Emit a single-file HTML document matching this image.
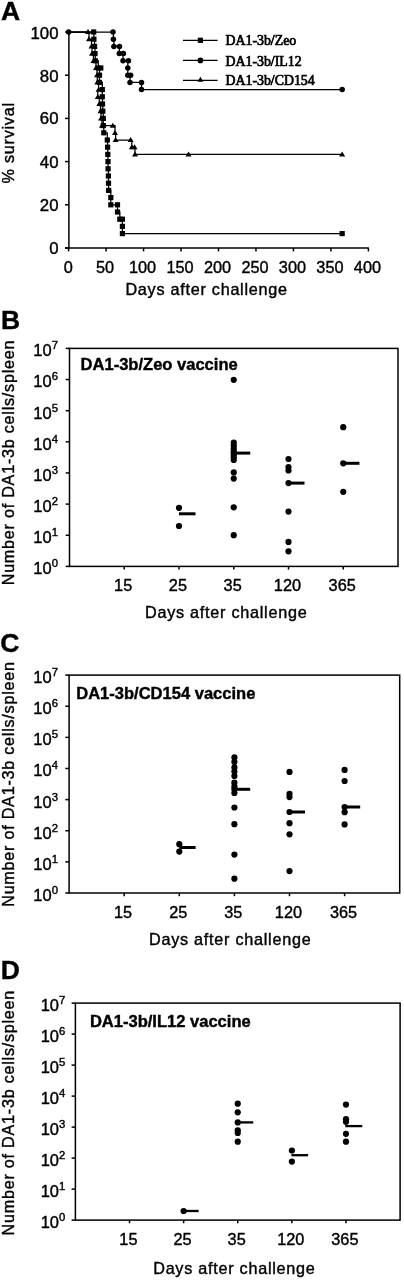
<!DOCTYPE html>
<html><head><meta charset="utf-8"><style>
html,body{margin:0;padding:0;background:#fff;}
svg{display:block;will-change:transform;}
text{stroke:#000;stroke-width:0.4;}
</style></head><body>
<svg width="404" height="1280" viewBox="0 0 404 1280">
<defs><filter id="bl" x="0" y="0" width="1" height="1"><feGaussianBlur stdDeviation="0.35"/></filter></defs>
<rect width="404" height="1280" fill="#fff"/>
<g filter="url(#bl)">
<rect width="404" height="1280" fill="#fff"/>
<text transform="translate(1.00,20.40)" font-family="Liberation Sans" font-size="26.5" font-weight="bold" text-anchor="start" fill="#000" >A</text>
<line x1="68.90" y1="31.50" x2="68.90" y2="248.50" stroke="#000" stroke-width="1.5"/>
<line x1="65.00" y1="248.00" x2="368.90" y2="248.00" stroke="#000" stroke-width="1.5"/>
<line x1="65.00" y1="248.00" x2="68.90" y2="248.00" stroke="#000" stroke-width="1.5"/>
<text transform="translate(58.50,254.20) scale(1.0300,1)" font-family="Liberation Sans" font-size="16.3" font-weight="normal" text-anchor="end" fill="#000" >0</text>
<line x1="65.00" y1="204.80" x2="68.90" y2="204.80" stroke="#000" stroke-width="1.5"/>
<text transform="translate(58.50,210.60) scale(1.0300,1)" font-family="Liberation Sans" font-size="16.3" font-weight="normal" text-anchor="end" fill="#000" >20</text>
<line x1="65.00" y1="161.60" x2="68.90" y2="161.60" stroke="#000" stroke-width="1.5"/>
<text transform="translate(58.50,167.90) scale(1.0300,1)" font-family="Liberation Sans" font-size="16.3" font-weight="normal" text-anchor="end" fill="#000" >40</text>
<line x1="65.00" y1="118.40" x2="68.90" y2="118.40" stroke="#000" stroke-width="1.5"/>
<text transform="translate(58.50,124.10) scale(1.0300,1)" font-family="Liberation Sans" font-size="16.3" font-weight="normal" text-anchor="end" fill="#000" >60</text>
<line x1="65.00" y1="75.20" x2="68.90" y2="75.20" stroke="#000" stroke-width="1.5"/>
<text transform="translate(58.50,82.30) scale(1.0300,1)" font-family="Liberation Sans" font-size="16.3" font-weight="normal" text-anchor="end" fill="#000" >80</text>
<line x1="65.00" y1="32.00" x2="68.90" y2="32.00" stroke="#000" stroke-width="1.5"/>
<text transform="translate(58.50,39.40) scale(1.0300,1)" font-family="Liberation Sans" font-size="16.3" font-weight="normal" text-anchor="end" fill="#000" >100</text>
<line x1="68.60" y1="248.00" x2="68.60" y2="251.40" stroke="#000" stroke-width="1.5"/>
<text transform="translate(68.40,272.60)" font-family="Liberation Sans" font-size="16.3" font-weight="normal" text-anchor="middle" fill="#000" >0</text>
<line x1="106.07" y1="248.00" x2="106.07" y2="251.40" stroke="#000" stroke-width="1.5"/>
<text transform="translate(105.07,272.60)" font-family="Liberation Sans" font-size="16.3" font-weight="normal" text-anchor="middle" fill="#000" >50</text>
<line x1="143.55" y1="248.00" x2="143.55" y2="251.40" stroke="#000" stroke-width="1.5"/>
<text transform="translate(142.55,272.60)" font-family="Liberation Sans" font-size="16.3" font-weight="normal" text-anchor="middle" fill="#000" >100</text>
<line x1="181.03" y1="248.00" x2="181.03" y2="251.40" stroke="#000" stroke-width="1.5"/>
<text transform="translate(180.03,272.60)" font-family="Liberation Sans" font-size="16.3" font-weight="normal" text-anchor="middle" fill="#000" >150</text>
<line x1="218.50" y1="248.00" x2="218.50" y2="251.40" stroke="#000" stroke-width="1.5"/>
<text transform="translate(217.50,272.60)" font-family="Liberation Sans" font-size="16.3" font-weight="normal" text-anchor="middle" fill="#000" >200</text>
<line x1="255.97" y1="248.00" x2="255.97" y2="251.40" stroke="#000" stroke-width="1.5"/>
<text transform="translate(254.97,272.60)" font-family="Liberation Sans" font-size="16.3" font-weight="normal" text-anchor="middle" fill="#000" >250</text>
<line x1="293.45" y1="248.00" x2="293.45" y2="251.40" stroke="#000" stroke-width="1.5"/>
<text transform="translate(292.45,272.60)" font-family="Liberation Sans" font-size="16.3" font-weight="normal" text-anchor="middle" fill="#000" >300</text>
<line x1="330.93" y1="248.00" x2="330.93" y2="251.40" stroke="#000" stroke-width="1.5"/>
<text transform="translate(329.93,272.60)" font-family="Liberation Sans" font-size="16.3" font-weight="normal" text-anchor="middle" fill="#000" >350</text>
<line x1="368.40" y1="248.00" x2="368.40" y2="251.40" stroke="#000" stroke-width="1.5"/>
<text transform="translate(367.40,272.60)" font-family="Liberation Sans" font-size="16.3" font-weight="normal" text-anchor="middle" fill="#000" >400</text>
<text transform="translate(125.40,294.60)" font-family="Liberation Sans" font-size="16.2" font-weight="normal" text-anchor="start" fill="#000" letter-spacing="0.74">Days after challenge</text>
<text transform="translate(14.20,183.40) rotate(-90)" font-family="Liberation Sans" font-size="16.2" font-weight="normal" text-anchor="start" fill="#000" letter-spacing="0.74">% survival</text>
<line x1="183.00" y1="40.30" x2="217.60" y2="40.30" stroke="#000" stroke-width="1.25"/>
<rect x="197.80" y="37.70" width="5.2" height="5.2" fill="#000"/>
<text transform="translate(225.50,45.40)" font-family="Liberation Serif" font-size="13.85" font-weight="normal" text-anchor="start" fill="#000" style="stroke-width:0.7px">DA1-3b/Zeo</text>
<line x1="183.00" y1="60.40" x2="217.60" y2="60.40" stroke="#000" stroke-width="1.25"/>
<circle cx="200.40" cy="60.40" r="2.85" fill="#000"/>
<text transform="translate(225.50,65.50)" font-family="Liberation Serif" font-size="13.85" font-weight="normal" text-anchor="start" fill="#000" style="stroke-width:0.7px">DA1-3b/IL12</text>
<line x1="183.00" y1="80.30" x2="217.60" y2="80.30" stroke="#000" stroke-width="1.25"/>
<path d="M197.50,81.80L200.40,76.80L203.30,81.80Z" fill="#000"/>
<text transform="translate(225.50,85.40)" font-family="Liberation Serif" font-size="13.85" font-weight="normal" text-anchor="start" fill="#000" style="stroke-width:0.7px">DA1-3b/CD154</text>
<path d="M68.60,32.00L88.00,32.00L89.00,32.00L89.00,39.20L91.50,39.20L91.50,46.40L92.00,46.40L92.00,53.60L93.50,53.60L93.50,60.80L96.00,60.80L96.00,68.00L97.00,68.00L97.00,75.20L97.30,75.20L97.30,82.40L98.60,82.40L98.60,89.60L97.80,89.60L97.80,96.80L99.30,96.80L99.30,104.00L100.50,104.00L100.50,111.20L101.00,111.20L101.00,118.40L102.00,118.40L102.00,125.60L112.80,125.60L115.00,125.60L115.00,132.80L115.60,132.80L115.60,140.00L130.60,140.00L131.80,140.00L131.80,147.20L134.50,147.20L135.00,147.20L135.00,154.40L342.17,154.40" fill="none" stroke="#000" stroke-width="1.25"/>
<path d="M85.00,34.10L88.00,29.10L91.00,34.10Z" fill="#000"/>
<path d="M86.00,41.30L89.00,36.30L92.00,41.30Z" fill="#000"/>
<path d="M88.50,48.50L91.50,43.50L94.50,48.50Z" fill="#000"/>
<path d="M89.00,55.70L92.00,50.70L95.00,55.70Z" fill="#000"/>
<path d="M90.50,62.90L93.50,57.90L96.50,62.90Z" fill="#000"/>
<path d="M93.00,70.10L96.00,65.10L99.00,70.10Z" fill="#000"/>
<path d="M94.00,77.30L97.00,72.30L100.00,77.30Z" fill="#000"/>
<path d="M94.30,84.50L97.30,79.50L100.30,84.50Z" fill="#000"/>
<path d="M95.60,91.70L98.60,86.70L101.60,91.70Z" fill="#000"/>
<path d="M94.80,98.90L97.80,93.90L100.80,98.90Z" fill="#000"/>
<path d="M96.30,106.10L99.30,101.10L102.30,106.10Z" fill="#000"/>
<path d="M97.50,113.30L100.50,108.30L103.50,113.30Z" fill="#000"/>
<path d="M98.00,120.50L101.00,115.50L104.00,120.50Z" fill="#000"/>
<path d="M99.00,127.70L102.00,122.70L105.00,127.70Z" fill="#000"/>
<path d="M109.80,127.70L112.80,122.70L115.80,127.70Z" fill="#000"/>
<path d="M112.00,134.90L115.00,129.90L118.00,134.90Z" fill="#000"/>
<path d="M112.60,142.10L115.60,137.10L118.60,142.10Z" fill="#000"/>
<path d="M127.60,142.10L130.60,137.10L133.60,142.10Z" fill="#000"/>
<path d="M128.80,149.30L131.80,144.30L134.80,149.30Z" fill="#000"/>
<path d="M131.50,149.30L134.50,144.30L137.50,149.30Z" fill="#000"/>
<path d="M132.00,156.50L135.00,151.50L138.00,156.50Z" fill="#000"/>
<path d="M185.52,156.50L188.52,151.50L191.52,156.50Z" fill="#000"/>
<path d="M339.17,156.50L342.17,151.50L345.17,156.50Z" fill="#000"/>
<path d="M68.60,32.00L93.70,32.00L93.90,32.00L93.90,39.20L94.60,39.20L94.60,46.40L95.00,46.40L95.00,53.60L95.30,53.60L95.30,60.80L98.30,60.80L98.30,68.00L100.80,68.00L99.50,68.00L99.50,75.20L99.50,75.20L99.50,82.40L102.30,82.40L102.30,89.60L102.30,89.60L102.30,96.80L102.50,96.80L102.50,104.00L102.80,104.00L102.80,111.20L103.30,111.20L103.30,118.40L103.30,118.40L103.30,125.60L103.80,125.60L103.80,132.80L107.30,132.80L107.30,140.00L107.60,140.00L107.60,147.20L107.80,147.20L107.80,154.40L108.00,154.40L108.00,161.60L108.10,161.60L108.10,168.80L108.40,168.80L108.40,176.00L108.50,176.00L108.50,183.20L108.60,183.20L108.60,190.40L110.80,190.40L110.80,197.60L110.80,197.60L110.80,204.80L117.50,204.80L117.50,204.80L117.50,212.00L119.80,212.00L119.80,219.20L122.40,219.20L122.40,219.20L122.40,226.40L122.40,226.40L122.40,233.60L342.17,233.60" fill="none" stroke="#000" stroke-width="1.25"/>
<rect x="91.10" y="29.40" width="5.2" height="5.2" fill="#000"/>
<rect x="91.30" y="36.60" width="5.2" height="5.2" fill="#000"/>
<rect x="92.00" y="43.80" width="5.2" height="5.2" fill="#000"/>
<rect x="92.40" y="51.00" width="5.2" height="5.2" fill="#000"/>
<rect x="92.70" y="58.20" width="5.2" height="5.2" fill="#000"/>
<rect x="95.70" y="65.40" width="5.2" height="5.2" fill="#000"/>
<rect x="98.20" y="65.40" width="5.2" height="5.2" fill="#000"/>
<rect x="96.90" y="72.60" width="5.2" height="5.2" fill="#000"/>
<rect x="96.90" y="79.80" width="5.2" height="5.2" fill="#000"/>
<rect x="99.70" y="87.00" width="5.2" height="5.2" fill="#000"/>
<rect x="99.70" y="94.20" width="5.2" height="5.2" fill="#000"/>
<rect x="99.90" y="101.40" width="5.2" height="5.2" fill="#000"/>
<rect x="100.20" y="108.60" width="5.2" height="5.2" fill="#000"/>
<rect x="100.70" y="115.80" width="5.2" height="5.2" fill="#000"/>
<rect x="100.70" y="123.00" width="5.2" height="5.2" fill="#000"/>
<rect x="101.20" y="130.20" width="5.2" height="5.2" fill="#000"/>
<rect x="104.70" y="137.40" width="5.2" height="5.2" fill="#000"/>
<rect x="105.00" y="144.60" width="5.2" height="5.2" fill="#000"/>
<rect x="105.20" y="151.80" width="5.2" height="5.2" fill="#000"/>
<rect x="105.40" y="159.00" width="5.2" height="5.2" fill="#000"/>
<rect x="105.50" y="166.20" width="5.2" height="5.2" fill="#000"/>
<rect x="105.80" y="173.40" width="5.2" height="5.2" fill="#000"/>
<rect x="105.90" y="180.60" width="5.2" height="5.2" fill="#000"/>
<rect x="106.00" y="187.80" width="5.2" height="5.2" fill="#000"/>
<rect x="108.20" y="195.00" width="5.2" height="5.2" fill="#000"/>
<rect x="108.20" y="202.20" width="5.2" height="5.2" fill="#000"/>
<rect x="114.90" y="202.20" width="5.2" height="5.2" fill="#000"/>
<rect x="114.90" y="209.40" width="5.2" height="5.2" fill="#000"/>
<rect x="117.20" y="216.60" width="5.2" height="5.2" fill="#000"/>
<rect x="119.80" y="216.60" width="5.2" height="5.2" fill="#000"/>
<rect x="119.80" y="223.80" width="5.2" height="5.2" fill="#000"/>
<rect x="119.80" y="231.00" width="5.2" height="5.2" fill="#000"/>
<rect x="339.57" y="231.00" width="5.2" height="5.2" fill="#000"/>
<path d="M68.60,32.00L113.00,32.00L113.40,32.00L113.40,39.20L113.90,39.20L113.90,46.40L119.50,46.40L119.30,46.40L119.30,53.60L123.40,53.60L123.00,53.60L123.00,60.80L128.40,60.80L127.80,60.80L127.80,68.00L127.80,68.00L127.80,75.20L130.60,75.20L130.00,75.20L130.00,82.40L141.50,82.40L141.50,82.40L141.50,89.60L342.17,89.60" fill="none" stroke="#000" stroke-width="1.25"/>
<circle cx="113.00" cy="32.00" r="2.75" fill="#000"/>
<circle cx="113.40" cy="39.20" r="2.75" fill="#000"/>
<circle cx="113.90" cy="46.40" r="2.75" fill="#000"/>
<circle cx="119.50" cy="46.40" r="2.75" fill="#000"/>
<circle cx="119.30" cy="53.60" r="2.75" fill="#000"/>
<circle cx="123.40" cy="53.60" r="2.75" fill="#000"/>
<circle cx="123.00" cy="60.80" r="2.75" fill="#000"/>
<circle cx="128.40" cy="60.80" r="2.75" fill="#000"/>
<circle cx="127.80" cy="68.00" r="2.75" fill="#000"/>
<circle cx="127.80" cy="75.20" r="2.75" fill="#000"/>
<circle cx="130.60" cy="75.20" r="2.75" fill="#000"/>
<circle cx="130.00" cy="82.40" r="2.75" fill="#000"/>
<circle cx="141.50" cy="82.40" r="2.75" fill="#000"/>
<circle cx="141.50" cy="89.60" r="2.75" fill="#000"/>
<circle cx="68.60" cy="32.00" r="2.75" fill="#000"/>
<circle cx="342.17" cy="89.60" r="2.75" fill="#000"/>
<text transform="translate(1.00,328.60)" font-family="Liberation Sans" font-size="26.5" font-weight="bold" text-anchor="start" fill="#000" >B</text>
<rect x="69.50" y="348.40" width="328.50" height="218.00" fill="none" stroke="#000" stroke-width="1.5"/>
<line x1="65.70" y1="566.40" x2="69.50" y2="566.40" stroke="#000" stroke-width="1.5"/>
<text transform="translate(58.00,574.30) scale(1.03,1)" font-family="Liberation Sans" font-size="16" fill="#000" text-anchor="end">10<tspan font-size="11" dy="-7">0</tspan></text>
<line x1="65.70" y1="535.26" x2="69.50" y2="535.26" stroke="#000" stroke-width="1.5"/>
<text transform="translate(58.00,543.16) scale(1.03,1)" font-family="Liberation Sans" font-size="16" fill="#000" text-anchor="end">10<tspan font-size="11" dy="-7">1</tspan></text>
<line x1="65.70" y1="504.11" x2="69.50" y2="504.11" stroke="#000" stroke-width="1.5"/>
<text transform="translate(58.00,512.01) scale(1.03,1)" font-family="Liberation Sans" font-size="16" fill="#000" text-anchor="end">10<tspan font-size="11" dy="-7">2</tspan></text>
<line x1="65.70" y1="472.97" x2="69.50" y2="472.97" stroke="#000" stroke-width="1.5"/>
<text transform="translate(58.00,480.87) scale(1.03,1)" font-family="Liberation Sans" font-size="16" fill="#000" text-anchor="end">10<tspan font-size="11" dy="-7">3</tspan></text>
<line x1="65.70" y1="441.83" x2="69.50" y2="441.83" stroke="#000" stroke-width="1.5"/>
<text transform="translate(58.00,449.73) scale(1.03,1)" font-family="Liberation Sans" font-size="16" fill="#000" text-anchor="end">10<tspan font-size="11" dy="-7">4</tspan></text>
<line x1="65.70" y1="410.69" x2="69.50" y2="410.69" stroke="#000" stroke-width="1.5"/>
<text transform="translate(58.00,418.59) scale(1.03,1)" font-family="Liberation Sans" font-size="16" fill="#000" text-anchor="end">10<tspan font-size="11" dy="-7">5</tspan></text>
<line x1="65.70" y1="379.54" x2="69.50" y2="379.54" stroke="#000" stroke-width="1.5"/>
<text transform="translate(58.00,387.44) scale(1.03,1)" font-family="Liberation Sans" font-size="16" fill="#000" text-anchor="end">10<tspan font-size="11" dy="-7">6</tspan></text>
<line x1="65.70" y1="348.40" x2="69.50" y2="348.40" stroke="#000" stroke-width="1.5"/>
<text transform="translate(58.00,356.30) scale(1.03,1)" font-family="Liberation Sans" font-size="16" fill="#000" text-anchor="end">10<tspan font-size="11" dy="-7">7</tspan></text>
<line x1="124.25" y1="566.40" x2="124.25" y2="569.60" stroke="#000" stroke-width="1.5"/>
<text transform="translate(123.15,591.20)" font-family="Liberation Sans" font-size="16.3" font-weight="normal" text-anchor="middle" fill="#000" >15</text>
<line x1="179.00" y1="566.40" x2="179.00" y2="569.60" stroke="#000" stroke-width="1.5"/>
<text transform="translate(177.90,591.20)" font-family="Liberation Sans" font-size="16.3" font-weight="normal" text-anchor="middle" fill="#000" >25</text>
<line x1="233.75" y1="566.40" x2="233.75" y2="569.60" stroke="#000" stroke-width="1.5"/>
<text transform="translate(232.65,591.20)" font-family="Liberation Sans" font-size="16.3" font-weight="normal" text-anchor="middle" fill="#000" >35</text>
<line x1="288.50" y1="566.40" x2="288.50" y2="569.60" stroke="#000" stroke-width="1.5"/>
<text transform="translate(287.40,591.20)" font-family="Liberation Sans" font-size="16.3" font-weight="normal" text-anchor="middle" fill="#000" >120</text>
<line x1="343.25" y1="566.40" x2="343.25" y2="569.60" stroke="#000" stroke-width="1.5"/>
<text transform="translate(342.15,591.20)" font-family="Liberation Sans" font-size="16.3" font-weight="normal" text-anchor="middle" fill="#000" >365</text>
<text transform="translate(145.00,617.60)" font-family="Liberation Sans" font-size="16.2" font-weight="normal" text-anchor="start" fill="#000" letter-spacing="0.74">Days after challenge</text>
<text transform="translate(14.00,585.30) rotate(-90)" font-family="Liberation Sans" font-size="16.2" font-weight="normal" text-anchor="start" fill="#000" letter-spacing="0.74">Number of DA1-3b cells/spleen</text>
<text transform="translate(80.60,369.50)" font-family="Liberation Sans" font-size="16.55" font-weight="bold" text-anchor="start" fill="#000" >DA1-3b/Zeo vaccine</text>
<circle cx="179.00" cy="507.80" r="3.1" fill="#000"/>
<circle cx="179.00" cy="526.00" r="3.1" fill="#000"/>
<line x1="179.00" y1="513.80" x2="195.50" y2="513.80" stroke="#000" stroke-width="3.0"/>
<circle cx="233.75" cy="442.50" r="3.1" fill="#000"/>
<circle cx="233.75" cy="445.50" r="3.1" fill="#000"/>
<circle cx="233.75" cy="448.50" r="3.1" fill="#000"/>
<circle cx="233.75" cy="451.50" r="3.1" fill="#000"/>
<circle cx="233.75" cy="455.00" r="3.1" fill="#000"/>
<circle cx="233.75" cy="457.50" r="3.1" fill="#000"/>
<circle cx="233.75" cy="460.00" r="3.1" fill="#000"/>
<circle cx="233.75" cy="472.40" r="3.1" fill="#000"/>
<circle cx="233.75" cy="478.60" r="3.1" fill="#000"/>
<circle cx="233.75" cy="507.30" r="3.1" fill="#000"/>
<circle cx="233.75" cy="535.20" r="3.1" fill="#000"/>
<circle cx="233.75" cy="379.80" r="3.1" fill="#000"/>
<circle cx="233.75" cy="453.10" r="3.1" fill="#000"/>
<line x1="233.75" y1="453.10" x2="250.25" y2="453.10" stroke="#000" stroke-width="3.0"/>
<circle cx="288.50" cy="459.00" r="3.1" fill="#000"/>
<circle cx="288.50" cy="467.00" r="3.1" fill="#000"/>
<circle cx="288.50" cy="470.50" r="3.1" fill="#000"/>
<circle cx="288.50" cy="511.60" r="3.1" fill="#000"/>
<circle cx="288.50" cy="541.90" r="3.1" fill="#000"/>
<circle cx="288.50" cy="551.30" r="3.1" fill="#000"/>
<circle cx="288.50" cy="483.10" r="3.1" fill="#000"/>
<line x1="288.50" y1="483.10" x2="304.50" y2="483.10" stroke="#000" stroke-width="3.0"/>
<circle cx="343.25" cy="427.20" r="3.1" fill="#000"/>
<circle cx="343.25" cy="491.80" r="3.1" fill="#000"/>
<circle cx="343.25" cy="463.30" r="3.1" fill="#000"/>
<line x1="343.25" y1="463.30" x2="359.45" y2="463.30" stroke="#000" stroke-width="3.0"/>
<text transform="translate(0.30,651.60)" font-family="Liberation Sans" font-size="26.5" font-weight="bold" text-anchor="start" fill="#000" >C</text>
<rect x="69.10" y="675.10" width="330.60" height="217.90" fill="none" stroke="#000" stroke-width="1.5"/>
<line x1="65.30" y1="893.00" x2="69.10" y2="893.00" stroke="#000" stroke-width="1.5"/>
<text transform="translate(58.00,900.90) scale(1.03,1)" font-family="Liberation Sans" font-size="16" fill="#000" text-anchor="end">10<tspan font-size="11" dy="-7">0</tspan></text>
<line x1="65.30" y1="861.87" x2="69.10" y2="861.87" stroke="#000" stroke-width="1.5"/>
<text transform="translate(58.00,869.77) scale(1.03,1)" font-family="Liberation Sans" font-size="16" fill="#000" text-anchor="end">10<tspan font-size="11" dy="-7">1</tspan></text>
<line x1="65.30" y1="830.74" x2="69.10" y2="830.74" stroke="#000" stroke-width="1.5"/>
<text transform="translate(58.00,838.64) scale(1.03,1)" font-family="Liberation Sans" font-size="16" fill="#000" text-anchor="end">10<tspan font-size="11" dy="-7">2</tspan></text>
<line x1="65.30" y1="799.61" x2="69.10" y2="799.61" stroke="#000" stroke-width="1.5"/>
<text transform="translate(58.00,807.51) scale(1.03,1)" font-family="Liberation Sans" font-size="16" fill="#000" text-anchor="end">10<tspan font-size="11" dy="-7">3</tspan></text>
<line x1="65.30" y1="768.49" x2="69.10" y2="768.49" stroke="#000" stroke-width="1.5"/>
<text transform="translate(58.00,776.39) scale(1.03,1)" font-family="Liberation Sans" font-size="16" fill="#000" text-anchor="end">10<tspan font-size="11" dy="-7">4</tspan></text>
<line x1="65.30" y1="737.36" x2="69.10" y2="737.36" stroke="#000" stroke-width="1.5"/>
<text transform="translate(58.00,745.26) scale(1.03,1)" font-family="Liberation Sans" font-size="16" fill="#000" text-anchor="end">10<tspan font-size="11" dy="-7">5</tspan></text>
<line x1="65.30" y1="706.23" x2="69.10" y2="706.23" stroke="#000" stroke-width="1.5"/>
<text transform="translate(58.00,714.13) scale(1.03,1)" font-family="Liberation Sans" font-size="16" fill="#000" text-anchor="end">10<tspan font-size="11" dy="-7">6</tspan></text>
<line x1="65.30" y1="675.10" x2="69.10" y2="675.10" stroke="#000" stroke-width="1.5"/>
<text transform="translate(58.00,683.00) scale(1.03,1)" font-family="Liberation Sans" font-size="16" fill="#000" text-anchor="end">10<tspan font-size="11" dy="-7">7</tspan></text>
<line x1="124.20" y1="893.00" x2="124.20" y2="896.20" stroke="#000" stroke-width="1.5"/>
<text transform="translate(123.10,917.80)" font-family="Liberation Sans" font-size="16.3" font-weight="normal" text-anchor="middle" fill="#000" >15</text>
<line x1="179.30" y1="893.00" x2="179.30" y2="896.20" stroke="#000" stroke-width="1.5"/>
<text transform="translate(178.20,917.80)" font-family="Liberation Sans" font-size="16.3" font-weight="normal" text-anchor="middle" fill="#000" >25</text>
<line x1="234.40" y1="893.00" x2="234.40" y2="896.20" stroke="#000" stroke-width="1.5"/>
<text transform="translate(233.30,917.80)" font-family="Liberation Sans" font-size="16.3" font-weight="normal" text-anchor="middle" fill="#000" >35</text>
<line x1="289.50" y1="893.00" x2="289.50" y2="896.20" stroke="#000" stroke-width="1.5"/>
<text transform="translate(288.40,917.80)" font-family="Liberation Sans" font-size="16.3" font-weight="normal" text-anchor="middle" fill="#000" >120</text>
<line x1="344.60" y1="893.00" x2="344.60" y2="896.20" stroke="#000" stroke-width="1.5"/>
<text transform="translate(343.50,917.80)" font-family="Liberation Sans" font-size="16.3" font-weight="normal" text-anchor="middle" fill="#000" >365</text>
<text transform="translate(149.00,944.80)" font-family="Liberation Sans" font-size="16.2" font-weight="normal" text-anchor="start" fill="#000" letter-spacing="0.74">Days after challenge</text>
<text transform="translate(14.00,906.80) rotate(-90)" font-family="Liberation Sans" font-size="16.2" font-weight="normal" text-anchor="start" fill="#000" letter-spacing="0.74">Number of DA1-3b cells/spleen</text>
<text transform="translate(76.20,698.80)" font-family="Liberation Sans" font-size="16.55" font-weight="bold" text-anchor="start" fill="#000" >DA1-3b/CD154 vaccine</text>
<circle cx="179.30" cy="844.20" r="3.1" fill="#000"/>
<circle cx="179.30" cy="851.60" r="3.1" fill="#000"/>
<line x1="179.30" y1="847.50" x2="195.60" y2="847.50" stroke="#000" stroke-width="3.0"/>
<circle cx="234.40" cy="757.40" r="3.1" fill="#000"/>
<circle cx="234.40" cy="761.90" r="3.1" fill="#000"/>
<circle cx="234.40" cy="767.40" r="3.1" fill="#000"/>
<circle cx="234.40" cy="771.50" r="3.1" fill="#000"/>
<circle cx="234.40" cy="776.00" r="3.1" fill="#000"/>
<circle cx="234.40" cy="782.70" r="3.1" fill="#000"/>
<circle cx="234.40" cy="786.40" r="3.1" fill="#000"/>
<circle cx="234.40" cy="793.00" r="3.1" fill="#000"/>
<circle cx="234.40" cy="807.50" r="3.1" fill="#000"/>
<circle cx="234.40" cy="824.20" r="3.1" fill="#000"/>
<circle cx="234.40" cy="854.60" r="3.1" fill="#000"/>
<circle cx="234.40" cy="878.70" r="3.1" fill="#000"/>
<circle cx="234.40" cy="789.30" r="3.1" fill="#000"/>
<line x1="234.40" y1="789.30" x2="250.20" y2="789.30" stroke="#000" stroke-width="3.0"/>
<circle cx="289.50" cy="771.90" r="3.1" fill="#000"/>
<circle cx="289.50" cy="793.90" r="3.1" fill="#000"/>
<circle cx="289.50" cy="797.10" r="3.1" fill="#000"/>
<circle cx="289.50" cy="823.20" r="3.1" fill="#000"/>
<circle cx="289.50" cy="834.30" r="3.1" fill="#000"/>
<circle cx="289.50" cy="871.10" r="3.1" fill="#000"/>
<circle cx="289.50" cy="812.00" r="3.1" fill="#000"/>
<line x1="289.50" y1="812.00" x2="305.00" y2="812.00" stroke="#000" stroke-width="3.0"/>
<circle cx="344.60" cy="769.90" r="3.1" fill="#000"/>
<circle cx="344.60" cy="781.00" r="3.1" fill="#000"/>
<circle cx="344.60" cy="812.20" r="3.1" fill="#000"/>
<circle cx="344.60" cy="824.40" r="3.1" fill="#000"/>
<circle cx="344.60" cy="807.00" r="3.1" fill="#000"/>
<line x1="344.60" y1="807.00" x2="360.20" y2="807.00" stroke="#000" stroke-width="3.0"/>
<text transform="translate(0.80,979.30)" font-family="Liberation Sans" font-size="26.5" font-weight="bold" text-anchor="start" fill="#000" >D</text>
<rect x="75.40" y="1003.10" width="324.70" height="217.00" fill="none" stroke="#000" stroke-width="1.5"/>
<line x1="71.60" y1="1220.10" x2="75.40" y2="1220.10" stroke="#000" stroke-width="1.5"/>
<text transform="translate(65.30,1228.40) scale(1.03,1)" font-family="Liberation Sans" font-size="16" fill="#000" text-anchor="end">10<tspan font-size="11" dy="-7">0</tspan></text>
<line x1="71.60" y1="1189.10" x2="75.40" y2="1189.10" stroke="#000" stroke-width="1.5"/>
<text transform="translate(65.30,1197.40) scale(1.03,1)" font-family="Liberation Sans" font-size="16" fill="#000" text-anchor="end">10<tspan font-size="11" dy="-7">1</tspan></text>
<line x1="71.60" y1="1158.10" x2="75.40" y2="1158.10" stroke="#000" stroke-width="1.5"/>
<text transform="translate(65.30,1166.40) scale(1.03,1)" font-family="Liberation Sans" font-size="16" fill="#000" text-anchor="end">10<tspan font-size="11" dy="-7">2</tspan></text>
<line x1="71.60" y1="1127.10" x2="75.40" y2="1127.10" stroke="#000" stroke-width="1.5"/>
<text transform="translate(65.30,1135.40) scale(1.03,1)" font-family="Liberation Sans" font-size="16" fill="#000" text-anchor="end">10<tspan font-size="11" dy="-7">3</tspan></text>
<line x1="71.60" y1="1096.10" x2="75.40" y2="1096.10" stroke="#000" stroke-width="1.5"/>
<text transform="translate(65.30,1104.40) scale(1.03,1)" font-family="Liberation Sans" font-size="16" fill="#000" text-anchor="end">10<tspan font-size="11" dy="-7">4</tspan></text>
<line x1="71.60" y1="1065.10" x2="75.40" y2="1065.10" stroke="#000" stroke-width="1.5"/>
<text transform="translate(65.30,1073.40) scale(1.03,1)" font-family="Liberation Sans" font-size="16" fill="#000" text-anchor="end">10<tspan font-size="11" dy="-7">5</tspan></text>
<line x1="71.60" y1="1034.10" x2="75.40" y2="1034.10" stroke="#000" stroke-width="1.5"/>
<text transform="translate(65.30,1042.40) scale(1.03,1)" font-family="Liberation Sans" font-size="16" fill="#000" text-anchor="end">10<tspan font-size="11" dy="-7">6</tspan></text>
<line x1="71.60" y1="1003.10" x2="75.40" y2="1003.10" stroke="#000" stroke-width="1.5"/>
<text transform="translate(65.30,1011.40) scale(1.03,1)" font-family="Liberation Sans" font-size="16" fill="#000" text-anchor="end">10<tspan font-size="11" dy="-7">7</tspan></text>
<line x1="129.52" y1="1220.10" x2="129.52" y2="1223.30" stroke="#000" stroke-width="1.5"/>
<text transform="translate(128.42,1244.90)" font-family="Liberation Sans" font-size="16.3" font-weight="normal" text-anchor="middle" fill="#000" >15</text>
<line x1="183.63" y1="1220.10" x2="183.63" y2="1223.30" stroke="#000" stroke-width="1.5"/>
<text transform="translate(182.53,1244.90)" font-family="Liberation Sans" font-size="16.3" font-weight="normal" text-anchor="middle" fill="#000" >25</text>
<line x1="237.75" y1="1220.10" x2="237.75" y2="1223.30" stroke="#000" stroke-width="1.5"/>
<text transform="translate(236.65,1244.90)" font-family="Liberation Sans" font-size="16.3" font-weight="normal" text-anchor="middle" fill="#000" >35</text>
<line x1="291.87" y1="1220.10" x2="291.87" y2="1223.30" stroke="#000" stroke-width="1.5"/>
<text transform="translate(290.77,1244.90)" font-family="Liberation Sans" font-size="16.3" font-weight="normal" text-anchor="middle" fill="#000" >120</text>
<line x1="345.98" y1="1220.10" x2="345.98" y2="1223.30" stroke="#000" stroke-width="1.5"/>
<text transform="translate(344.88,1244.90)" font-family="Liberation Sans" font-size="16.3" font-weight="normal" text-anchor="middle" fill="#000" >365</text>
<text transform="translate(153.20,1274.30)" font-family="Liberation Sans" font-size="16.2" font-weight="normal" text-anchor="start" fill="#000" letter-spacing="0.74">Days after challenge</text>
<text transform="translate(14.00,1235.40) rotate(-90)" font-family="Liberation Sans" font-size="16.2" font-weight="normal" text-anchor="start" fill="#000" letter-spacing="0.74">Number of DA1-3b cells/spleen</text>
<text transform="translate(89.90,1026.90)" font-family="Liberation Sans" font-size="16.55" font-weight="bold" text-anchor="start" fill="#000" >DA1-3b/IL12 vaccine</text>
<circle cx="183.63" cy="1211.00" r="3.1" fill="#000"/>
<line x1="183.63" y1="1211.00" x2="198.63" y2="1211.00" stroke="#000" stroke-width="2.3"/>
<circle cx="237.75" cy="1103.70" r="3.1" fill="#000"/>
<circle cx="237.75" cy="1112.30" r="3.1" fill="#000"/>
<circle cx="237.75" cy="1130.30" r="3.1" fill="#000"/>
<circle cx="237.75" cy="1133.00" r="3.1" fill="#000"/>
<circle cx="237.75" cy="1141.70" r="3.1" fill="#000"/>
<circle cx="237.75" cy="1122.40" r="3.1" fill="#000"/>
<line x1="237.75" y1="1122.40" x2="253.25" y2="1122.40" stroke="#000" stroke-width="2.3"/>
<circle cx="291.87" cy="1150.50" r="3.1" fill="#000"/>
<circle cx="291.87" cy="1161.60" r="3.1" fill="#000"/>
<circle cx="345.98" cy="1104.60" r="3.1" fill="#000"/>
<circle cx="345.98" cy="1119.20" r="3.1" fill="#000"/>
<circle cx="345.98" cy="1121.80" r="3.1" fill="#000"/>
<circle cx="345.98" cy="1133.80" r="3.1" fill="#000"/>
<circle cx="345.98" cy="1141.70" r="3.1" fill="#000"/>
<line x1="291.40" y1="1155.20" x2="308.10" y2="1155.20" stroke="#000" stroke-width="2.3"/>
<line x1="345.30" y1="1126.10" x2="362.30" y2="1126.10" stroke="#000" stroke-width="2.3"/>
</g>
</svg>
</body></html>
